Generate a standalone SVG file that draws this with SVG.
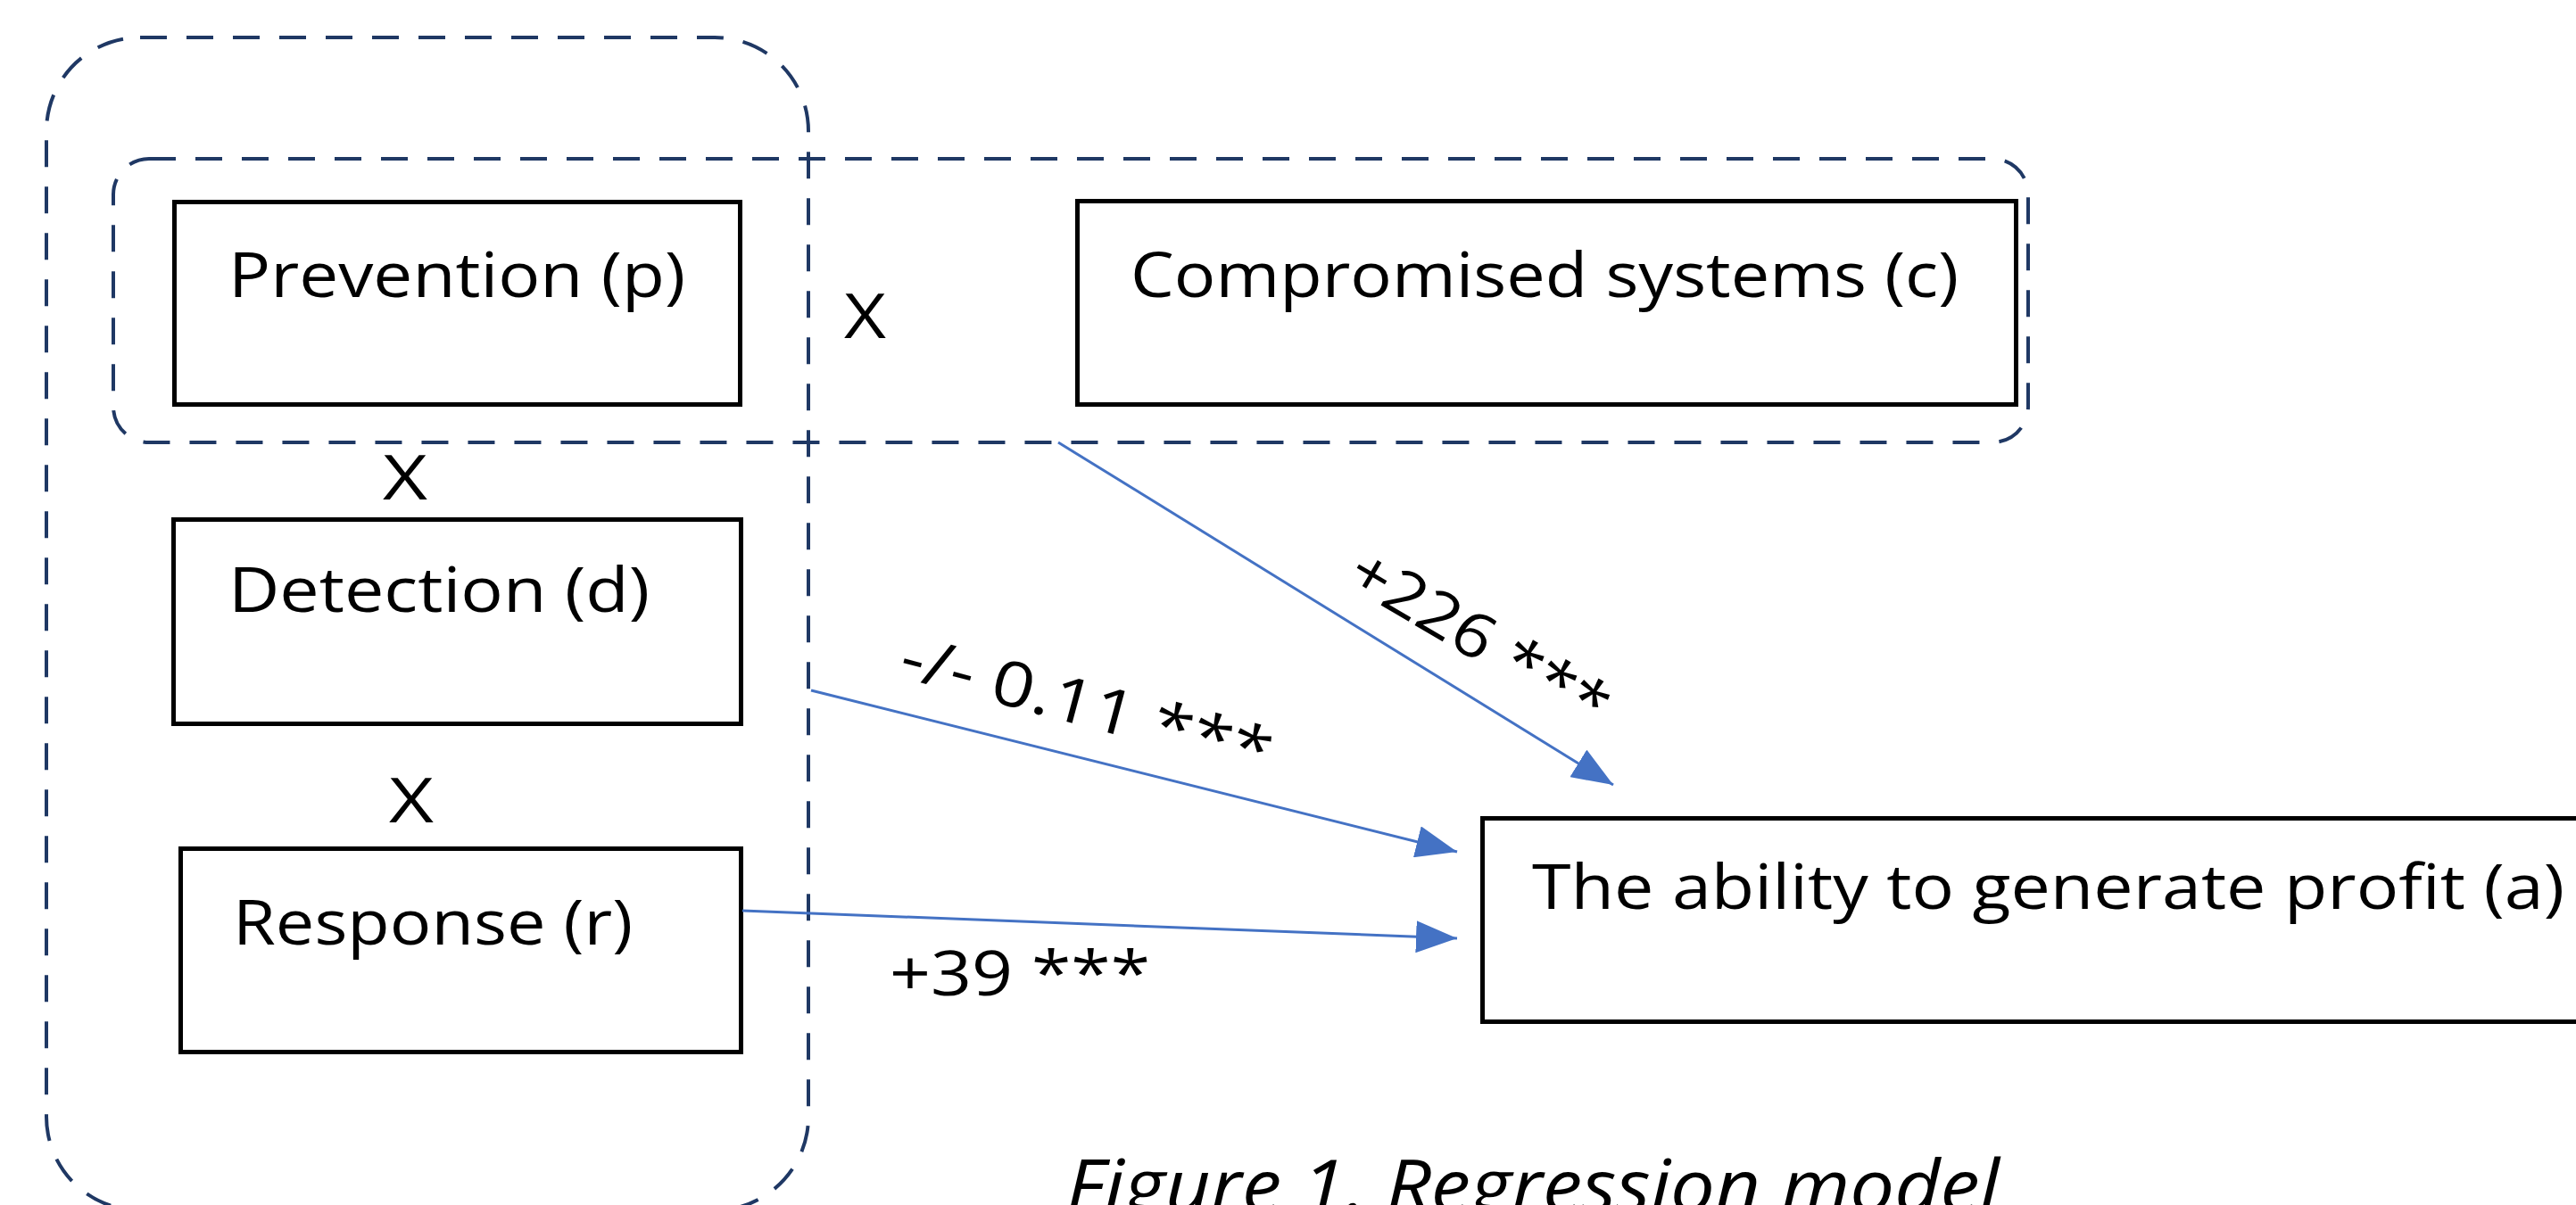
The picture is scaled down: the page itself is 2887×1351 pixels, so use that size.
<svg xmlns="http://www.w3.org/2000/svg" width="2887" height="1351" viewBox="0 0 2887 1351">
<style>
.box{fill:none;stroke:#000;stroke-width:5}
.grp{fill:none;stroke:#1F3864;stroke-width:4;stroke-dasharray:30 22}
.t{font-family:"Open Sans","Noto Sans","Liberation Sans",sans-serif;font-size:70px;fill:#000}
.lbl{font-family:"Open Sans","Noto Sans","Liberation Sans",sans-serif;font-size:70px;fill:#000}
.cap{font-family:"Open Sans","Noto Sans","Liberation Sans",sans-serif;font-size:80px;font-style:italic;fill:#000}
.arr{fill:none;stroke:#4472C4;stroke-width:3}
</style>
<defs>
<marker id="ah" markerUnits="userSpaceOnUse" markerWidth="46" markerHeight="36" refX="46" refY="18" orient="auto">
<path d="M0,0 L46,18 L0,36 z" fill="#4472C4"/>
</marker>
</defs>
<rect width="2887" height="1351" fill="#fff"/>
<g id="groups">
<rect class="grp" x="52" y="42" width="854" height="1315" rx="105" ry="105"/>
<rect class="grp" x="127" y="178" width="2146" height="318" rx="40" ry="40"/>
</g>
<g id="node-p">
<rect class="box" x="195.5" y="226.5" width="634" height="227"/>
<text class="t" x="256" y="333" textLength="512" lengthAdjust="spacingAndGlyphs">Prevention (p)</text>
</g>
<g id="node-c">
<rect class="box" x="1207.5" y="225.5" width="1052" height="228"/>
<text class="t" x="1267" y="333" textLength="928" lengthAdjust="spacingAndGlyphs">Compromised systems (c)</text>
</g>
<g id="node-d">
<rect class="box" x="194.5" y="582.5" width="636" height="229"/>
<text class="t" x="256" y="686" textLength="472" lengthAdjust="spacingAndGlyphs">Detection (d)</text>
</g>
<g id="node-r">
<rect class="box" x="202.5" y="951.5" width="628" height="228"/>
<text class="t" x="261" y="1059" textLength="448" lengthAdjust="spacingAndGlyphs">Response (r)</text>
</g>
<g id="node-a">
<rect class="box" x="1661.5" y="917.5" width="1300" height="228"/>
<text class="t" x="1717" y="1019" textLength="1157" lengthAdjust="spacingAndGlyphs">The ability to generate profit (a)</text>
</g>
<g id="operators">
<text class="t" x="946" y="379" textLength="47" lengthAdjust="spacingAndGlyphs">X</text>
<text class="t" x="429" y="560" textLength="50" lengthAdjust="spacingAndGlyphs">X</text>
<text class="t" x="436" y="922" textLength="50" lengthAdjust="spacingAndGlyphs">X</text>
</g>
<g id="connectors">
<line class="arr" x1="1186" y1="496" x2="1808" y2="880" marker-end="url(#ah)"/>
<line class="arr" x1="909" y1="774" x2="1633" y2="955" marker-end="url(#ah)"/>
<line class="arr" x1="832" y1="1021" x2="1633" y2="1052" marker-end="url(#ah)"/>
</g>
<g id="labels">
<text class="lbl" transform="translate(1506,654) rotate(30.5)" textLength="325" lengthAdjust="spacingAndGlyphs">+226 ***</text>
<text class="lbl" transform="translate(1005,758) rotate(15)" textLength="428" lengthAdjust="spacingAndGlyphs">-/- 0.11 ***</text>
<text class="lbl" x="997" y="1116" textLength="292" lengthAdjust="spacingAndGlyphs">+39 ***</text>
</g>
<text class="cap" x="1195" y="1358" textLength="1046" lengthAdjust="spacingAndGlyphs">Figure 1. Regression model</text>
</svg>
